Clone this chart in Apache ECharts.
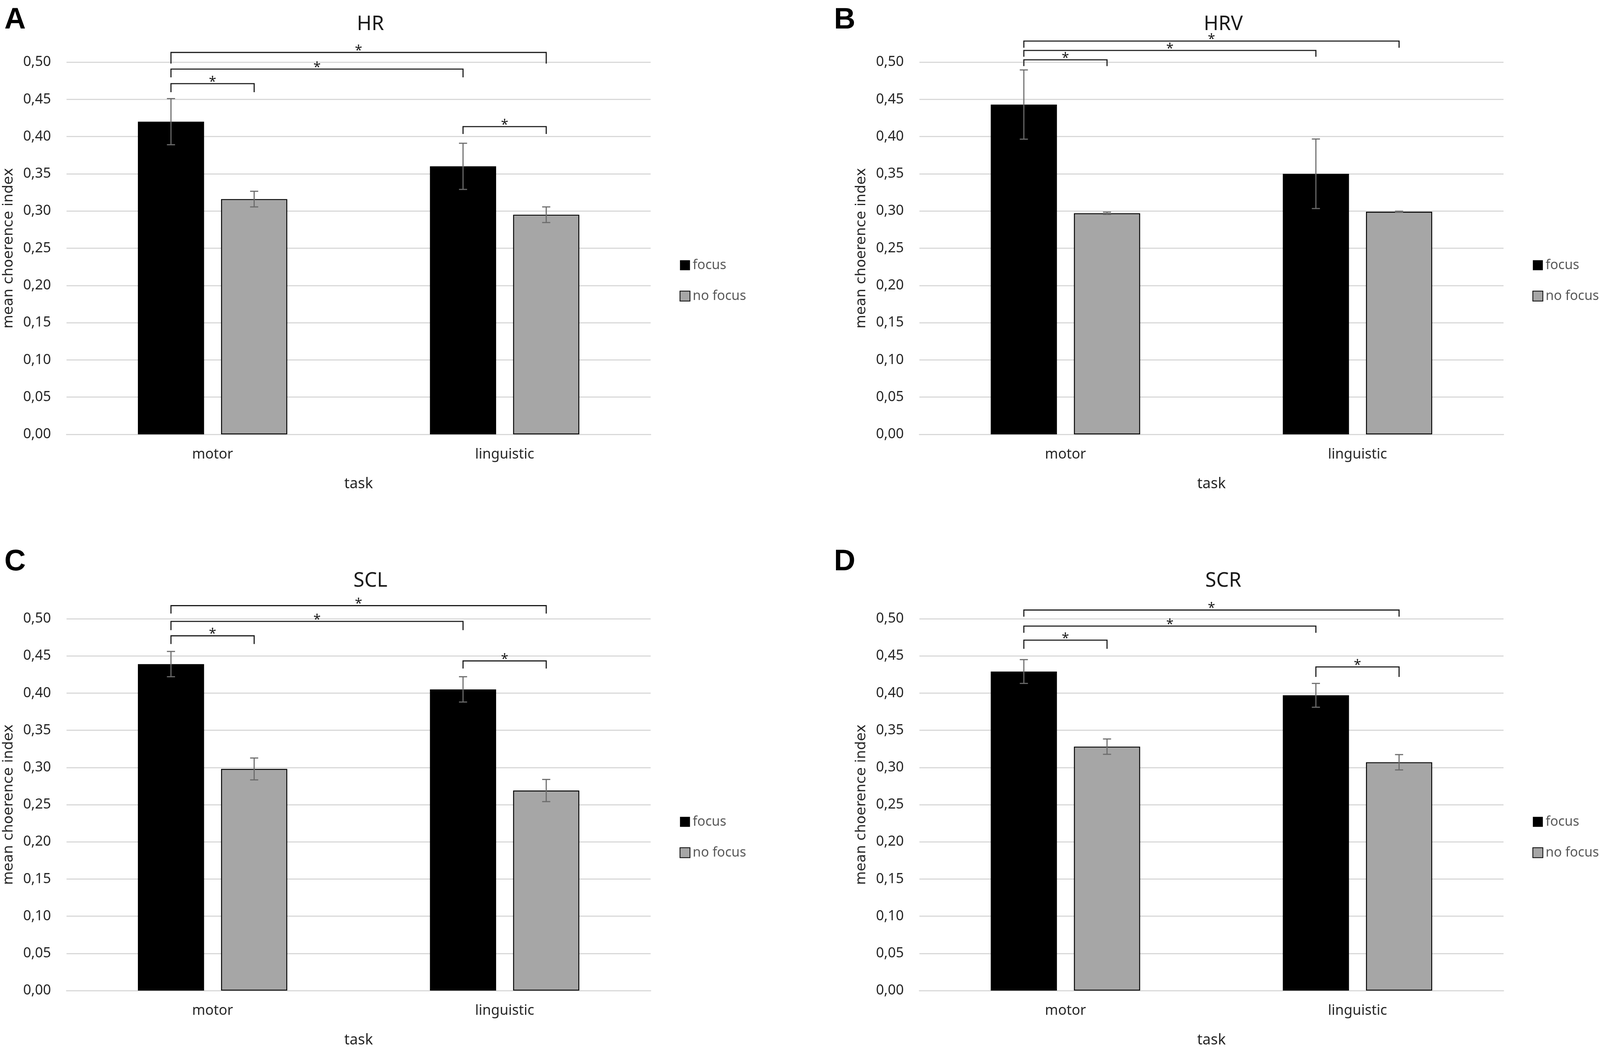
<!DOCTYPE html>
<html lang="en">
<head>
    <meta charset="UTF-8">
    <title>Mean choerence index - HR, HRV, SCL, SCR</title>
    <script src="https://cdn.jsdelivr.net/npm/echarts/dist/echarts.min.js"></script>
    <style>
        html, body { margin: 0; padding: 0; background: #fff; overflow: hidden; }
        #chart { width: 100vw; height: 100vh; }
    </style>
</head>
<body>
    <div id="chart"></div>
    <script>
        // categories and labels
        var categories = ['motor', 'linguistic'];
        var panelTitles = ['HR', 'HRV', 'SCL', 'SCR'];
        var panelLetters = ['A', 'B', 'C', 'D'];
        var seriesNames = ['focus', 'no focus'];
        var yTickLabels = ['0,00', '0,05', '0,10', '0,15', '0,20', '0,25', '0,30', '0,35', '0,40', '0,45', '0,50'];

        // HR
        var hrFocus = [0.420, 0.360];
        var hrFocusErr = [0.031, 0.031];
        var hrNoFocus = [0.316, 0.295];
        var hrNoFocusErr = [0.0105, 0.0105];
        // HRV
        var hrvFocus = [0.443, 0.350];
        var hrvFocusErr = [0.0465, 0.0467];
        var hrvNoFocus = [0.297, 0.299];
        var hrvNoFocusErr = [0.0015, 0.0007];
        // SCL
        var sclFocus = [0.439, 0.405];
        var sclFocusErr = [0.017, 0.017];
        var sclNoFocus = [0.298, 0.269];
        var sclNoFocusErr = [0.0147, 0.0149];
        // SCR
        var scrFocus = [0.429, 0.397];
        var scrFocusErr = [0.016, 0.016];
        var scrNoFocus = [0.328, 0.307];
        var scrNoFocusErr = [0.0103, 0.0103];

        // significance brackets: [fromCat, fromSide, toCat, toSide, top, end]
        var hrBrackets = [[0, 0, 1, 1, 0.513, 0.498], [0, 0, 1, 0, 0.4906, 0.4795], [0, 0, 0, 1, 0.4711, 0.4596], [1, 0, 1, 1, 0.4134, 0.4035]];
        var hrvBrackets = [[0, 0, 1, 1, 0.5283, 0.5193], [0, 0, 1, 0, 0.5157, 0.5072], [0, 0, 0, 1, 0.5031, 0.4946]];
        var sclBrackets = [[0, 0, 1, 1, 0.5176, 0.507], [0, 0, 1, 0, 0.4964, 0.4847], [0, 0, 0, 1, 0.477, 0.466], [1, 0, 1, 1, 0.4433, 0.433]];
        var scrBrackets = [[0, 0, 1, 1, 0.5117, 0.5027], [0, 0, 1, 0, 0.4901, 0.4811], [0, 0, 0, 1, 0.4712, 0.4595], [1, 0, 1, 1, 0.4352, 0.4217]];

        var focusVals = [hrFocus, hrvFocus, sclFocus, scrFocus];
        var focusErrs = [hrFocusErr, hrvFocusErr, sclFocusErr, scrFocusErr];
        var noFocusVals = [hrNoFocus, hrvNoFocus, sclNoFocus, scrNoFocus];
        var noFocusErrs = [hrNoFocusErr, hrvNoFocusErr, sclNoFocusErr, scrNoFocusErr];
        var brackets = [hrBrackets, hrvBrackets, sclBrackets, scrBrackets];

        var FONT = "'Noto Sans', sans-serif";
        var BAR_W = 0.2266;
        var BAR_GAP = 0.257;

        var chart = echarts.init(document.getElementById('chart'));

        // layout is measured on a 4328 x 2683 page; scale to whatever we got
        var sx = chart.getWidth() / 4328;
        var sy = chart.getHeight() / 2683;
        var sf = Math.min(sx, sy);
        function px(v) { return v * sx; }
        function py(v) { return v * sy; }
        function fs(v) { return Math.round(v * sf * 10) / 10; }

        var DX = 2307;   // offset between left and right panels
        var DY = 1425;   // offset between top and bottom panels

        // x position of a bar centre, from the category axis
        function barX(api, cat, side) {
            var band = api.size([1, 0])[0];
            var w = band * BAR_W;
            var off = (w + w * BAR_GAP) / 2;
            return api.coord([cat, 0])[0] + (side === 0 ? -off : off);
        }

        function renderErr(params, api) {
            var cat = api.value(0), v = api.value(1), e = api.value(2), side = api.value(3);
            var x = barX(api, cat, side);
            var yt = api.coord([cat, v + e])[1];
            var yb = api.coord([cat, v - e])[1];
            var cap = px(11);
            var st = { stroke: '#6b6b6b', lineWidth: 3 * sf };
            return {
                type: 'group',
                children: [
                    { type: 'line', shape: { x1: x, y1: yt, x2: x, y2: yb }, style: st },
                    { type: 'line', shape: { x1: x - cap, y1: yt, x2: x + cap, y2: yt }, style: st },
                    { type: 'line', shape: { x1: x - cap, y1: yb, x2: x + cap, y2: yb }, style: st }
                ]
            };
        }

        function renderBracket(params, api) {
            var x1 = barX(api, api.value(0), api.value(1));
            var x2 = barX(api, api.value(2), api.value(3));
            var yt = api.coord([0, api.value(4)])[1];
            var ye = api.coord([0, api.value(5)])[1];
            return {
                type: 'group',
                children: [
                    {
                        type: 'polyline',
                        shape: { points: [[x1, ye], [x1, yt], [x2, yt], [x2, ye]] },
                        style: { stroke: '#1a1a1a', lineWidth: 3 * sf, fill: null }
                    },
                    {
                        type: 'text',
                        x: (x1 + x2) / 2,
                        y: yt - py(4),
                        style: { text: '*', fontSize: fs(36), fontFamily: FONT, fill: '#1a1a1a', textAlign: 'center', textVerticalAlign: 'middle' }
                    }
                ]
            };
        }

        var grids = [], xAxes = [], yAxes = [], series = [], legends = [], graphics = [];

        for (var i = 0; i < 4; i++) {
            var ox = (i % 2) * DX;
            var oy = Math.floor(i / 2) * DY;

            grids.push({ left: px(180 + ox), top: py(159 + oy), width: px(1580), height: py(953) });

            xAxes.push({
                type: 'category',
                gridIndex: i,
                data: categories,
                name: 'task',
                nameLocation: 'middle',
                nameGap: py(108),
                nameTextStyle: { fontFamily: FONT, fontSize: fs(40), color: '#262626' },
                axisLine: { lineStyle: { color: '#d9d9d9', width: 3 * sf } },
                axisTick: { show: false },
                axisLabel: { fontFamily: FONT, fontSize: fs(38), color: '#262626', margin: py(34) }
            });

            yAxes.push({
                type: 'value',
                gridIndex: i,
                min: 0,
                max: 0.5,
                interval: 0.05,
                name: 'mean choerence index',
                nameLocation: 'middle',
                nameGap: px(137),
                nameTextStyle: { fontFamily: "'DejaVu Sans', sans-serif", fontSize: fs(38), color: '#262626' },
                axisLine: { show: false },
                axisTick: { show: false },
                splitLine: { lineStyle: { color: '#d9d9d9', width: 3 * sf } },
                axisLabel: {
                    fontFamily: FONT, fontSize: fs(38), color: '#262626', margin: px(42),
                    formatter: function (v) { return yTickLabels[Math.round(v / 0.05)]; }
                }
            });

            series.push({
                name: seriesNames[0],
                type: 'bar',
                xAxisIndex: i,
                yAxisIndex: i,
                data: focusVals[i],
                barWidth: (BAR_W * 100) + '%',
                barGap: (BAR_GAP * 100) + '%',
                itemStyle: { color: '#000000' },
                emphasis: { disabled: true }
            });
            series.push({
                name: seriesNames[1],
                type: 'bar',
                xAxisIndex: i,
                yAxisIndex: i,
                data: noFocusVals[i],
                barWidth: (BAR_W * 100) + '%',
                barGap: (BAR_GAP * 100) + '%',
                itemStyle: { color: '#a6a6a6', borderColor: '#000000', borderWidth: 2.5 * sf },
                emphasis: { disabled: true }
            });

            var errData = [];
            for (var c = 0; c < categories.length; c++) {
                errData.push([c, focusVals[i][c], focusErrs[i][c], 0]);
                errData.push([c, noFocusVals[i][c], noFocusErrs[i][c], 1]);
            }
            series.push({
                type: 'custom',
                xAxisIndex: i,
                yAxisIndex: i,
                renderItem: renderErr,
                data: errData,
                z: 5,
                silent: true
            });

            series.push({
                type: 'custom',
                xAxisIndex: i,
                yAxisIndex: i,
                renderItem: renderBracket,
                encode: { x: 0, y: 4 },
                data: brackets[i],
                clip: false,
                z: 6,
                silent: true
            });

            legends.push({
                data: seriesNames,
                orient: 'vertical',
                icon: 'rect',
                left: px(1833 + ox),
                top: py(657 + oy),
                itemWidth: fs(27),
                itemHeight: fs(27),
                itemGap: py(45),
                selectedMode: false,
                textStyle: { fontFamily: FONT, fontSize: fs(36), color: '#595959', padding: [0, 0, 0, 2] }
            });

            graphics.push({
                type: 'text',
                x: px(1002 + ox),
                y: py(62 + oy),
                style: { text: panelTitles[i], fontFamily: FONT, fontSize: fs(54), fill: '#1a1a1a', textAlign: 'center', textVerticalAlign: 'middle' }
            });
            graphics.push({
                type: 'text',
                x: px(i % 2 === 0 ? 12 : 2256),
                y: py(i < 2 ? 52 : 1439),
                style: { text: panelLetters[i], fontFamily: "'Liberation Sans', Arial, sans-serif", fontWeight: 'bold', fontSize: fs(80), fill: '#000', textAlign: 'left', textVerticalAlign: 'middle' }
            });
        }

        chart.setOption({
            backgroundColor: '#ffffff',
            animation: false,
            grid: grids,
            xAxis: xAxes,
            yAxis: yAxes,
            legend: legends,
            series: series,
            graphic: graphics
        });
    </script>
</body>
</html>
